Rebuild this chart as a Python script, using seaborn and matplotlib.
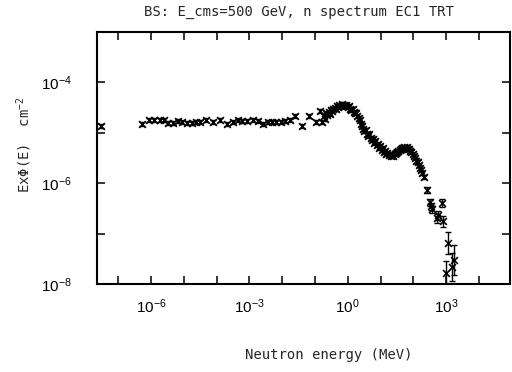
import numpy as np
import pandas as pd
import matplotlib
matplotlib.use("Agg")
import matplotlib.pyplot as plt
import matplotlib.ticker as mticker
import seaborn as sns

# ---- data (log10 of energy in MeV, log10 of E*Phi(E)) ----
log_energy = [
    -7.53,
    -6.29, -6.05, -5.90, -5.74, -5.60, -5.47, -5.34, -5.19, -5.06, -4.91,
    -4.76, -4.62, -4.50, -4.32, -4.11, -3.89, -3.69, -3.50, -3.36, -3.23,
    -3.07, -2.89, -2.75, -2.58, -2.44, -2.31, -2.18, -2.05, -1.92, -1.77,
    -1.60, -1.39, -1.19, -0.98, -0.85, -0.78,
    -0.72, -0.69, -0.66, -0.62, -0.58, -0.55, -0.51, -0.47, -0.44, -0.40,
    -0.37, -0.33, -0.29, -0.26, -0.22, -0.18, -0.15, -0.11, -0.07, -0.04,
    0.00, 0.04, 0.07, 0.11, 0.15, 0.18, 0.22, 0.26, 0.29, 0.33,
    0.37, 0.40, 0.44, 0.48, 0.51, 0.55, 0.59, 0.62, 0.66, 0.70,
    0.73, 0.77, 0.81, 0.84, 0.88, 0.92, 0.95, 0.99, 1.03, 1.06,
    1.10, 1.14, 1.17, 1.21, 1.25, 1.28, 1.32, 1.36, 1.39, 1.43,
    1.47, 1.50, 1.54, 1.58, 1.61, 1.65, 1.69, 1.72, 1.76, 1.80,
    1.83, 1.87, 1.91, 1.94, 1.98, 2.02, 2.05, 2.09, 2.13, 2.16,
    2.20, 2.24, 2.28, 2.33,
    2.41, 2.50, 2.53, 2.56, 2.71, 2.76, 2.86, 2.91,
    3.07, 3.00, 3.17, 3.25,
]
log_flux = [
    -4.87,
    -4.82, -4.75, -4.75, -4.75, -4.75, -4.81, -4.81, -4.77, -4.79, -4.81,
    -4.81, -4.79, -4.79, -4.74, -4.79, -4.75, -4.82, -4.79, -4.75, -4.77,
    -4.77, -4.74, -4.77, -4.82, -4.79, -4.79, -4.79, -4.79, -4.77, -4.74,
    -4.67, -4.87, -4.66, -4.79, -4.56, -4.79,
    -4.66, -4.72, -4.60, -4.64, -4.58, -4.62, -4.55, -4.57, -4.52, -4.50,
    -4.53, -4.47, -4.49, -4.44, -4.46, -4.43, -4.46, -4.44, -4.47, -4.45,
    -4.49, -4.47, -4.52, -4.55, -4.53, -4.58, -4.61, -4.60, -4.66, -4.70,
    -4.74, -4.82, -4.86, -4.92, -4.96, -4.94, -5.02, -5.06, -5.03, -5.10,
    -5.14, -5.12, -5.20, -5.17, -5.24, -5.22, -5.30, -5.27, -5.34, -5.31,
    -5.38, -5.36, -5.42, -5.40, -5.45, -5.42, -5.47, -5.44, -5.46, -5.43,
    -5.41, -5.39, -5.36, -5.34, -5.32, -5.30, -5.31, -5.29, -5.30, -5.29,
    -5.32, -5.33, -5.36, -5.38, -5.42, -5.46, -5.50, -5.55, -5.58, -5.63,
    -5.70, -5.74, -5.80, -5.88,
    -6.14, -6.38, -6.46, -6.52, -6.70, -6.64, -6.40, -6.76,
    -7.19, -7.79, -7.66, -7.52,
]
log_err = (
    [0.04] * 37
    + [0.04] * 84
    + [0.06, 0.07, 0.07, 0.07, 0.09, 0.09, 0.08, 0.10]
    + [0.22, 0.25, 0.28, 0.30]
)

title = "BS: E_cms=500 GeV, n spectrum EC1 TRT"
xlabel = "Neutron energy (MeV)"
ylabel = "Ex\u03a6(E)  cm$^{-2}$"
x_label_decades = [-6, -3, 0, 3]
y_label_decades = [-8, -6, -4]

# ---- build table ----
df = pd.DataFrame({"le": log_energy, "lf": log_flux, "err": log_err})
df["energy"] = 10.0 ** df["le"]
df["flux"] = 10.0 ** df["lf"]
df["lo"] = df["flux"] - 10.0 ** (df["lf"] - df["err"])
df["hi"] = 10.0 ** (df["lf"] + df["err"]) - df["flux"]

sns.set_theme(style="white")
plt.rcParams["font.family"] = ["Liberation Sans", "DejaVu Sans"]
plt.rcParams["mathtext.default"] = "regular"

fig = plt.figure(figsize=(5.12, 3.72), dpi=100)
ax = fig.add_axes([0.1895, 0.2366, 0.8066, 0.6774])

ax.errorbar(df["energy"], df["flux"], yerr=[df["lo"], df["hi"]], fmt="none",
            ecolor="black", elinewidth=1.0, capsize=2.4, capthick=1.0, zorder=2)
sns.scatterplot(data=df, x="energy", y="flux", marker="x", color="black",
                s=24, linewidth=1.2, ax=ax, zorder=3, legend=False)

ax.set_xscale("log")
ax.set_yscale("log")
ax.set_xlim(10 ** -7.65, 10 ** 4.95)
ax.set_ylim(1e-8, 1e-3)

xt = [10.0 ** k for k in range(-7, 5)]
ax.xaxis.set_major_locator(mticker.FixedLocator(xt))
ax.xaxis.set_minor_locator(mticker.NullLocator())
ax.xaxis.set_major_formatter(mticker.FuncFormatter(
    lambda v, p: ("$10^{%d}$" % round(np.log10(v))) if round(np.log10(v)) in x_label_decades else ""))
yt = [10.0 ** k for k in range(-8, -2)]
ax.yaxis.set_major_locator(mticker.FixedLocator(yt))
ax.yaxis.set_minor_locator(mticker.NullLocator())
ax.yaxis.set_major_formatter(mticker.FuncFormatter(
    lambda v, p: ("$10^{%d}$" % round(np.log10(v))) if round(np.log10(v)) in y_label_decades else ""))

ax.tick_params(axis="both", which="major", direction="in", length=6, width=1.1,
               top=True, right=True, bottom=True, left=True, labelsize=11, colors="black")
ax.tick_params(axis="x", pad=10)
ax.tick_params(axis="y", pad=18)
for s in ax.spines.values():
    s.set_color("black")
    s.set_linewidth(1.5)

ax.set_xlabel("")
ax.set_ylabel("")
fig.text(0.583, 0.968, title, ha="center", va="center", fontsize=10,
         family="DejaVu Sans Mono")
fig.text(0.643, 0.045, xlabel, ha="center", va="center", fontsize=10,
         family="DejaVu Sans Mono")
fig.text(0.047, 0.61, ylabel, ha="center", va="center", fontsize=10,
         rotation=90, family="DejaVu Sans Mono")

fig.savefig("out.png", dpi=100)
